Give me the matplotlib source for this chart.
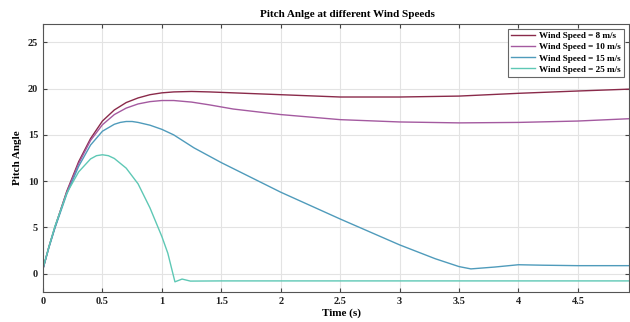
import matplotlib
matplotlib.use("Agg")
import matplotlib.pyplot as plt
from matplotlib.ticker import FuncFormatter

plt.rcParams['font.family'] = ['Liberation Serif', 'DejaVu Serif']

# Data
t8 = [0, 0.05, 0.1, 0.2, 0.3, 0.4, 0.5, 0.6, 0.7, 0.8, 0.9, 1.0, 1.1, 1.25, 1.4, 1.6, 2.0, 2.5, 3.0, 3.5, 4.0, 4.5, 4.93]
v8 = [0.5, 2.9, 5.0, 8.9, 12.1, 14.6, 16.5, 17.7, 18.5, 19.0, 19.35, 19.55, 19.65, 19.7, 19.65, 19.55, 19.35, 19.1, 19.1, 19.2, 19.5, 19.75, 19.95]

t10 = [0, 0.05, 0.1, 0.2, 0.3, 0.4, 0.5, 0.6, 0.7, 0.8, 0.9, 1.0, 1.1, 1.25, 1.4, 1.6, 2.0, 2.5, 3.0, 3.5, 4.0, 4.5, 4.93]
v10 = [0.5, 2.9, 5.0, 8.8, 11.9, 14.4, 16.1, 17.2, 17.9, 18.35, 18.6, 18.72, 18.72, 18.55, 18.25, 17.8, 17.2, 16.65, 16.4, 16.3, 16.35, 16.5, 16.75]

t15 = [0, 0.05, 0.1, 0.2, 0.3, 0.4, 0.5, 0.6, 0.65, 0.7, 0.75, 0.8, 0.9, 1.0, 1.1, 1.27, 1.5, 2.0, 2.5, 3.0, 3.3, 3.5, 3.6, 3.8, 4.0, 4.2, 4.5, 4.93]
v15 = [0.5, 2.8, 4.9, 8.6, 11.6, 13.9, 15.4, 16.15, 16.35, 16.45, 16.45, 16.35, 16.05, 15.6, 15.0, 13.6, 12.0, 8.8, 5.9, 3.1, 1.6, 0.75, 0.5, 0.7, 0.95, 0.9, 0.85, 0.85]

t25 = [0, 0.05, 0.1, 0.2, 0.3, 0.4, 0.45, 0.5, 0.55, 0.6, 0.7, 0.8, 0.9, 1.0, 1.05, 1.11, 1.17, 1.24, 1.5, 2.0, 3.0, 4.0, 4.93]
v25 = [0.6, 2.9, 5.1, 8.7, 11.0, 12.4, 12.75, 12.85, 12.75, 12.45, 11.4, 9.7, 7.1, 4.0, 2.2, -0.9, -0.6, -0.82, -0.8, -0.8, -0.8, -0.8, -0.8]

labels = ['Wind Speed = 8 m/s', 'Wind Speed = 10 m/s', 'Wind Speed = 15 m/s', 'Wind Speed = 25 m/s']
colors = ['#8a2a4a', '#a45aa0', '#4f9bbb', '#5ec8b5']

fig = plt.figure(figsize=(6.3, 3.22), dpi=100)
ax = fig.add_axes([43/630, 30/322, 586/630, 268/322])

for t, v, lab, c in zip([t8, t10, t15, t25], [v8, v10, v15, v25], labels, colors):
    ax.plot(t, v, color=c, lw=1.0, label=lab)

ax.set_xlim(0, 4.93)
ax.set_ylim(-2, 27)
ax.set_xticks([0, 0.5, 1, 1.5, 2, 2.5, 3, 3.5, 4, 4.5])
ax.set_yticks([0, 5, 10, 15, 20, 25])
ax.xaxis.set_major_formatter(FuncFormatter(lambda x, p: f"{x:g}"))
ax.grid(True, color='#e3e3e3', lw=0.8)
ax.set_axisbelow(True)
ax.tick_params(direction='in', length=3, width=0.8, colors='#444444', labelsize=7.5,
               top=True, right=True, labelcolor='#222222')
for lbl in ax.get_xticklabels() + ax.get_yticklabels():
    lbl.set_fontweight('bold')
for s in ax.spines.values():
    s.set_color('#555555')
    s.set_linewidth(0.8)

ax.set_title('Pitch Anlge at different Wind Speeds', fontsize=8, fontweight='bold', pad=5, x=0.52)
ax.set_xlabel('Time (s)', fontsize=8, fontweight='bold', labelpad=1)
ax.xaxis.set_label_coords(0.51, -0.06)
ax.set_ylabel('Pitch Angle', fontsize=8, fontweight='bold', labelpad=4)

leg = ax.legend(loc='upper right', prop={'weight': 'bold', 'size': 6.6},
                frameon=True, fancybox=False, edgecolor='#666666', framealpha=1,
                handlelength=2.6, handletextpad=0.5, borderaxespad=0.5,
                labelspacing=0.3, borderpad=0.35)
leg.get_frame().set_linewidth(0.8)

fig.savefig('out.png', dpi=100)
